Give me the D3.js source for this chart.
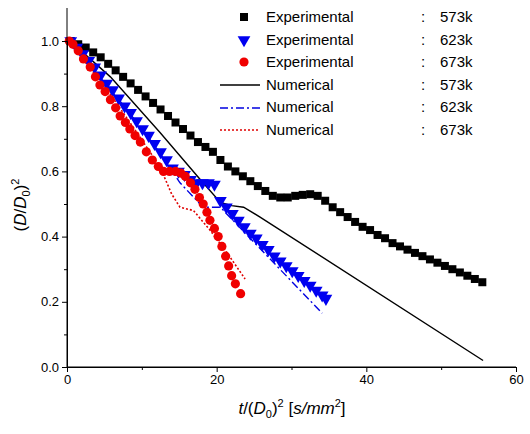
<!DOCTYPE html>
<html><head><meta charset="utf-8">
<script src="https://cdn.jsdelivr.net/npm/d3@7"></script>
<style>body{margin:0;background:#fff}text{font-family:"Liberation Sans",Arial,sans-serif}</style>
</head><body>
<script>
// experimental data
var exp573t = [0.5,1.5,2.5,3.5,4.5,5.5,6.5,7.5,8.5,9.5,10.5,11.5,12.5,13.5,14.5,15.5,16.5,17.5,18.5,19.5,20.5,21.5,22.5,23.5,24.5,25.5,26.5,27.5,28.5,29.5,30.5,31.5,32.5,33.5,34.5,35.5,36.5,37.5,38.5,39.5,40.5,41.5,42.5,43.5,44.5,45.5,46.5,47.5,48.5,49.5,50.5,51.5,52.5,53.5,54.5,55.5];
var exp573v = [1.0,0.99,0.98,0.965,0.95,0.93,0.91,0.89,0.87,0.85,0.83,0.81,0.79,0.77,0.75,0.73,0.71,0.69,0.675,0.66,0.635,0.615,0.6,0.585,0.57,0.555,0.54,0.525,0.52,0.52,0.525,0.528,0.53,0.525,0.51,0.49,0.475,0.46,0.445,0.43,0.42,0.405,0.395,0.38,0.37,0.36,0.35,0.34,0.33,0.32,0.31,0.3,0.29,0.28,0.27,0.26];
var exp623t = [0.5,1.3,2.1,2.9,3.7,4.5,5.3,6.1,6.9,7.7,8.5,9.3,10.1,10.9,11.7,12.5,13.3,14.1,14.9,15.7,16.5,17.3,18.1,18.9,19.7,20.5,21.3,22.1,22.9,23.7,24.5,25.3,26.1,26.9,27.7,28.5,29.3,30.1,30.9,31.7,32.5,33.3,34.1,34.6];
var exp623v = [1.0,0.98,0.96,0.94,0.92,0.895,0.87,0.85,0.825,0.8,0.78,0.755,0.73,0.71,0.685,0.66,0.635,0.61,0.6,0.59,0.575,0.565,0.565,0.565,0.56,0.51,0.49,0.47,0.45,0.43,0.41,0.395,0.375,0.36,0.34,0.325,0.31,0.295,0.28,0.265,0.25,0.235,0.22,0.21];
var exp673t = [0.3,0.8,1.5,2.2,3.1,3.8,4.4,5.1,5.8,6.5,7.1,7.8,8.4,9.1,9.8,10.6,11.4,12.2,12.9,13.7,14.5,15.2,15.8,16.5,17.1,17.7,18.2,18.7,19.1,19.7,20.2,20.7,21.2,21.6,22.0,22.5,23.2];
var exp673v = [1.0,0.99,0.97,0.945,0.92,0.89,0.865,0.845,0.82,0.795,0.77,0.75,0.73,0.71,0.69,0.66,0.635,0.615,0.6,0.6,0.6,0.595,0.585,0.565,0.545,0.52,0.5,0.475,0.45,0.425,0.4,0.37,0.34,0.31,0.28,0.255,0.225];
// numerical data
var num573t = [0,0.4,5.8,12.4,17.8,20.5,22,23.6,25.8,55.6];
var num573v = [1,1,0.89,0.72,0.575,0.505,0.495,0.49,0.46,0.02];
var num623t = [0,4,8,12,15.1,18.2,20.5,34.1];
var num623v = [1,0.9,0.79,0.67,0.565,0.49,0.49,0.165];
var num673t = [0,3,6,9,12.4,14,15.1,16.9,19.1,21.4,23.8];
var num673v = [1,0.92,0.83,0.73,0.615,0.53,0.49,0.48,0.42,0.35,0.27];
var xTicks = [0,20,40,60];
var yTicks = [0.0,0.2,0.4,0.6,0.8,1.0];

var W = 530, H = 434;
var svg = d3.select("body").append("svg").attr("width", W).attr("height", H);
var x = d3.scaleLinear().domain([0,60]).range([67,516]);
var y = d3.scaleLinear().domain([0,1]).range([367,41]);

function zip(t,v){ return t.map(function(d,i){ return [d, v[i]]; }); }
var line = d3.line().x(function(d){return x(d[0]);}).y(function(d){return y(d[1]);});

// numerical lines
svg.append("path").datum(zip(num573t,num573v)).attr("d",line).attr("fill","none").attr("stroke","#000").attr("stroke-width",1.4);
svg.append("path").datum(zip(num623t,num623v)).attr("d",line).attr("fill","none").attr("stroke","#0000e0").attr("stroke-width",1.4).attr("stroke-dasharray","8,3,2,3");
svg.append("path").datum(zip(num673t,num673v)).attr("d",line).attr("fill","none").attr("stroke","#e00000").attr("stroke-width",1.6).attr("stroke-dasharray","2,2");

// experimental markers
svg.append("g").selectAll("rect").data(zip(exp573t,exp573v)).enter().append("rect")
  .attr("x",function(d){return x(d[0])-4;}).attr("y",function(d){return y(d[1])-4;})
  .attr("width",8).attr("height",8).attr("fill","#000");
var tri = d3.symbol().type(d3.symbolTriangle).size(70);
svg.append("g").selectAll("path").data(zip(exp623t,exp623v)).enter().append("path")
  .attr("d",tri).attr("fill","#0000f0")
  .attr("transform",function(d){return "translate("+x(d[0])+","+y(d[1])+") rotate(180)";});
svg.append("g").selectAll("circle").data(zip(exp673t,exp673v)).enter().append("circle")
  .attr("cx",function(d){return x(d[0]);}).attr("cy",function(d){return y(d[1]);})
  .attr("r",4.6).attr("fill","#f00000");

// axes
var xAxis = d3.axisBottom(x).tickValues(xTicks).tickFormat(d3.format("d")).tickSizeOuter(0).tickSize(5);
var gx = svg.append("g").attr("transform","translate(0,367)").call(xAxis);
svg.append("g").attr("transform","translate(0,367)").call(d3.axisBottom(x).tickValues([10,30,50]).tickFormat("").tickSize(3).tickSizeOuter(0)).select(".domain").remove();
var yAxis = d3.axisLeft(y).tickValues(yTicks).tickFormat(d3.format(".1f")).tickSizeOuter(0).tickSize(5);
var gy = svg.append("g").attr("transform","translate(67,0)").call(yAxis);
svg.append("g").attr("transform","translate(67,0)").call(d3.axisLeft(y).tickValues([0.1,0.3,0.5,0.7,0.9]).tickFormat("").tickSize(3).tickSizeOuter(0)).select(".domain").remove();
svg.append("line").attr("x1",67).attr("x2",67).attr("y1",8).attr("y2",367).attr("stroke","#000");
svg.append("line").attr("x1",67).attr("x2",516).attr("y1",367).attr("y2",367).attr("stroke","#000");
svg.selectAll(".tick text").attr("font-size",13).attr("font-family","Liberation Sans, Arial, sans-serif");

// axis titles
var yl = svg.append("text").attr("transform","translate(26,205) rotate(-90)").attr("text-anchor","middle")
  .attr("font-family","DejaVu Serif, serif").attr("font-size",17);
yl.append("tspan").text("(");
yl.append("tspan").attr("font-style","italic").text("D");
yl.append("tspan").text("/");
yl.append("tspan").attr("font-style","italic").text("D");
yl.append("tspan").attr("font-size",11).attr("dy",4).text("0");
yl.append("tspan").attr("dy",-4).text(")");
yl.append("tspan").attr("font-size",11).attr("dy",-7).text("2");

var xl = svg.append("text").attr("x",292).attr("y",414).attr("text-anchor","middle")
  .attr("font-family","DejaVu Serif, serif").attr("font-size",17);
xl.append("tspan").attr("font-style","italic").text("t");
xl.append("tspan").text("/(");
xl.append("tspan").attr("font-style","italic").text("D");
xl.append("tspan").attr("font-size",11).attr("dy",4).text("0");
xl.append("tspan").attr("dy",-4).text(")");
xl.append("tspan").attr("font-size",11).attr("dy",-7).text("2");
xl.append("tspan").attr("dy",7).text(" [");
xl.append("tspan").attr("font-style","italic").text("s/mm");
xl.append("tspan").attr("font-size",11).attr("dy",-7).text("2");
xl.append("tspan").attr("dy",7).text("]");

// legend
var legLabels = ["Experimental","Experimental","Experimental","Numerical","Numerical","Numerical"];
var legTemps = ["573k","623k","673k","573k","623k","673k"];
var lg = svg.append("g");
legLabels.forEach(function(l,i){
  var yy = 17 + i*22.6;
  lg.append("text").attr("x",266).attr("y",yy+5).attr("font-size",15).text(l);
  lg.append("text").attr("x",421).attr("y",yy+5).attr("font-size",15).text(":");
  lg.append("text").attr("x",440).attr("y",yy+5).attr("font-size",15).text(legTemps[i]);
});
lg.append("rect").attr("x",240).attr("y",13).attr("width",8).attr("height",8).attr("fill","#000");
lg.append("path").attr("d",tri).attr("fill","#0000f0").attr("transform","translate(244,40) rotate(180)");
lg.append("circle").attr("cx",244).attr("cy",62).attr("r",4.6).attr("fill","#f00000");
lg.append("line").attr("x1",220).attr("x2",260).attr("y1",85).attr("y2",85).attr("stroke","#000").attr("stroke-width",1.4);
lg.append("line").attr("x1",220).attr("x2",260).attr("y1",108).attr("y2",108).attr("stroke","#0000e0").attr("stroke-width",1.4).attr("stroke-dasharray","8,3,2,3");
lg.append("line").attr("x1",220).attr("x2",260).attr("y1",130).attr("y2",130).attr("stroke","#e00000").attr("stroke-width",1.6).attr("stroke-dasharray","2,2");
</script>
</body></html>
